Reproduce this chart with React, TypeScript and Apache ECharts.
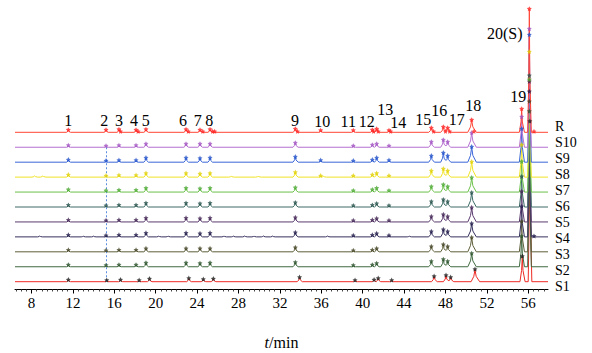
import React, { useEffect, useRef } from "react";
import * as echarts from "echarts";

// ---------- data ----------
const traceNames = ["S1", "S2", "S3", "S4", "S5", "S6", "S7", "S8", "S9", "S10", "R"];
const peakLabels = ["1", "2", "3", "4", "5", "6", "7", "8", "9", "10", "11", "12", "13", "14", "15", "16", "17", "18", "19", "20(S)"];
// retention times (min) for S2..S10 and R
const peakTimes = [11.56, 15.2, 16.45, 18.1, 19.06, 22.93, 24.28, 25.25, 33.49, 35.94, 39.09, 40.93, 41.35, 42.54, 46.63, 47.79, 48.21, 50.53, 55.36, 56.1];
// S1 is slightly shifted
const s1PeakTimes = [11.56, 15.27, 16.6, 18.4, 19.4, 23.2, 24.6, 25.57, 33.9, 36.3, 39.26, 41.1, 41.5, 42.8, 46.9, 48.05, 48.5, 50.85, 55.42, 56.15];
const peakWidths = [0.35, 0.35, 0.35, 0.35, 0.4, 0.4, 0.4, 0.4, 0.45, 0.35, 0.35, 0.35, 0.4, 0.35, 0.5, 0.5, 0.5, 0.75, 0.45, 0.32];

// peak heights (relative signal) per trace, null = not detected
const heightsS1 = [1.5, 1, 1.5, 1, 2.5, 3, 2, 2.5, 4, null, 1, 1.5, 3, 1, 5, 6, 4, 12, 25, 160];
const heightsS2 = [1.5, 1, 1.5, 1.5, 3.5, 3.5, 3, 3.5, 4, null, 1, 1.5, 3, null, 5, 7, 5, 13, 30, 155];
const heightsS3 = [1.5, 1, 1.5, 1.5, 3, 3, 3, 3, 4, null, 1, 1.5, 3, null, 5, 7, 5, 14, 30, 150];
const heightsS4 = [1.5, 1, 1.5, 1.5, 3.5, 3.5, 3, 3.5, 4, null, 1, 1.5, 3, 1, 5, 7, 5, 13, 30, 145];
const heightsS5 = [1.5, 1, 1.5, 1.5, 3.5, 3.5, 3, 3.5, 4, null, 1, 1.5, 3, 1, 5, 7, 5, 14, 30, 140];
const heightsS6 = [1.5, 1, 1.5, 1.5, 3.5, 3.5, 3, 3.5, 4, null, 1, 1.5, 3, 1, 5, 7, 5, 14, 30, 131];
const heightsS7 = [2, 1, 1.5, 1.5, 3.5, 3.5, 3, 3.5, 4, null, 1, 2, 3.5, 1, 5, 7, 5, 14, 30, 112];
const heightsS8 = [2, 1, 1.5, 1.5, 3.5, 3.5, 3, 3.5, 4.5, 1, 1, 2, 3.5, 1, 6, 8, 6, 15, 32, 125];
const heightsS9 = [2, 1, 1.5, 1.5, 4, 4, 3.5, 4, 5, 1.5, 1, 2, 4, 1.5, 6, 9, 6, 15, 33, 127];
const heightsS10 = [1.5, 1, 1.5, 1.5, 3, 3, 3, 3, 4, null, 1, 2, 3, 1, 5, 7, 5, 14, 30, 118];
const heightsR = [2, 2, 2.5, 2, 2.5, 2.5, 2, 2.5, 3, 1.5, 1.5, 2, 3, 1.5, 4, 5, 4, 12, 23, 123];

// small baseline disturbances
const s8NoiseTimes = [8.3, 9.1, 27.3, 29.9, 36.2];
const s8NoiseHeights = [1.2, 1.2, 0.8, 0.8, 0.8];
const s4NoiseTimes = [8.8, 13.0, 14.0, 20.3, 21.2, 26.6, 27.5, 28.6, 29.5, 30.4, 31.3, 36.6, 44.5];
const s4NoiseHeights = [0.9, 0.7, 0.7, 0.8, 0.8, 0.9, 0.8, 0.9, 0.8, 0.9, 0.8, 0.8, 0.7];

// extra marked points on R (shoulders) and S4
const rExtraMarkTimes = [16.6, 18.3, 23.15, 24.55, 25.5, 25.7, 33.7, 41.05, 41.5, 42.7, 46.85, 48.0, 48.4, 50.75, 56.55];
const s4ExtraMarkTimes = [56.55];

const tickLabels = [8, 12, 16, 20, 24, 28, 32, 36, 40, 44, 48, 52, 56];

// ---------- layout / style ----------
const X_MIN = 6.406;
const X_MAX = 57.904;
const Y_MAX = 284.5;
const BASE0 = 7.8;
const BASE_STEP = 14.94;

const lineColors = ["#ee2a24", "#3f6a40", "#5e5e3a", "#35305e", "#5a3a6e", "#3d6b66", "#6cc24a", "#f0e326", "#3a66d8", "#b56fd0", "#ff4535"];
const markColors = ["#1a1a1a", "#285028", "#404020", "#201a48", "#3e2050", "#24504a", "#4aa830", "#e0d000", "#1f4fc8", "#a050c0", "#ff2020"];

const heightTable = [heightsS1, heightsS2, heightsS3, heightsS4, heightsS5, heightsS6, heightsS7, heightsS8, heightsS9, heightsS10, heightsR];

const labelPos: [number, number][] = [
  [68.3, 120], [104.3, 120], [119, 120], [134, 120], [145.7, 120], [183, 120], [197.7, 120], [209.3, 120],
  [295, 120], [322.3, 121], [348.3, 121], [366.7, 121], [385.3, 109], [398.3, 122.5], [423.3, 119],
  [439.3, 110.5], [456.7, 119], [473.3, 105.5], [518.3, 96], [504.7, 33],
];

const shapeDx = [-0.5, -0.15, 0, 0.15, 0.6];
const shapeFr = [0, 0.45, 1, 0.45, 0];

type Peak = { t: number; h: number; w: number };

function peakValue(p: Peak, x: number): number {
  for (let k = 0; k < shapeDx.length - 1; k++) {
    const x0 = p.t + shapeDx[k] * p.w;
    const x1 = p.t + shapeDx[k + 1] * p.w;
    if (x >= x0 && x <= x1) {
      const f = x1 === x0 ? 0 : (x - x0) / (x1 - x0);
      return p.h * (shapeFr[k] + f * (shapeFr[k + 1] - shapeFr[k]));
    }
  }
  return 0;
}

function buildTrace(idx: number) {
  const times = idx === 0 ? s1PeakTimes : peakTimes;
  const hs = heightTable[idx];
  const base = BASE0 + BASE_STEP * idx;
  const peaks: Peak[] = [];
  times.forEach((t, i) => {
    const h = hs[i];
    if (h != null) peaks.push({ t, h, w: peakWidths[i] });
  });
  if (traceNames[idx] === "S8") s8NoiseTimes.forEach((t, i) => peaks.push({ t, h: s8NoiseHeights[i], w: 0.5 }));
  if (traceNames[idx] === "S4") s4NoiseTimes.forEach((t, i) => peaks.push({ t, h: s4NoiseHeights[i], w: 0.4 }));
  const xs = new Set<number>([X_MIN, X_MAX]);
  peaks.forEach((p) => shapeDx.forEach((d) => {
    const x = p.t + d * p.w;
    if (x > X_MIN && x < X_MAX) xs.add(x);
  }));
  const sorted = Array.from(xs).sort((a, b) => a - b);
  const line = sorted.map((x) => [x, base + peaks.reduce((s, p) => s + peakValue(p, x), 0)]);
  const marks: number[][] = [];
  times.forEach((t, i) => {
    const h = hs[i];
    if (h != null) marks.push([t, base + h + 0.6]);
  });
  if (traceNames[idx] === "R") rExtraMarkTimes.forEach((t) => marks.push([t, base + 1]));
  if (traceNames[idx] === "S4") s4ExtraMarkTimes.forEach((t) => marks.push([t, base + 1]));
  return { line, marks, base };
}

const STAR = "path://M0,-10L2.9,-4L9.5,-3.1L4.7,1.5L5.9,8.1L0,5L-5.9,8.1L-4.7,1.5L-9.5,-3.1L-2.9,-4Z";
const FONT = "Liberation Serif";

export default function App() {
  const ref = useRef<HTMLDivElement>(null);
  useEffect(() => {
    document.body.style.margin = "0";
    if (!ref.current) return;
    const chart = echarts.init(ref.current, undefined, { renderer: "svg" });

    const series: any[] = [];
    const traces = traceNames.map((_, i) => buildTrace(i));
    traces.forEach((tr, i) => {
      const lineSeries: any = {
        name: traceNames[i],
        type: "line",
        data: tr.line,
        showSymbol: false,
        symbol: "none",
        lineStyle: { width: 1, color: lineColors[i] },
        itemStyle: { color: lineColors[i] },
        z: 2 + i,
        silent: true,
        endLabel: {
          show: true,
          formatter: traceNames[i],
          color: "#000",
          fontFamily: FONT,
          fontSize: 14,
          lineHeight: 14,
          distance: 7,
          offset: [0, 5 - 1.06 * i],
        },
      };
      if (i === 0) {
        const t2 = peakTimes[1];
        lineSeries.markLine = {
          silent: true,
          symbol: "none",
          label: { show: false },
          lineStyle: { color: "#5b8ee0", type: [2, 2], width: 1 },
          data: [[{ coord: [t2, traces[9].base] }, { coord: [t2, tr.base] }]],
        };
      }
      series.push(lineSeries);
      series.push({
        type: "scatter",
        data: tr.marks,
        symbol: STAR,
        symbolSize: 5,
        itemStyle: { color: markColors[i] },
        z: 20 + i,
        silent: true,
      });
    });

    const minorTicks: number[] = [];
    for (let v = 6.5; v < X_MAX; v += 0.5) {
      if (v % 4 !== 0) minorTicks.push(v);
    }

    const graphic = peakLabels.map((txt, i) => ({
      type: "text",
      x: labelPos[i][0],
      y: labelPos[i][1],
      style: {
        text: txt,
        fontFamily: FONT,
        fontSize: 16,
        fill: "#000",
        textAlign: "center",
        textVerticalAlign: "middle",
      },
      z: 100,
    }));

    chart.setOption({
      animation: false,
      backgroundColor: "#fff",
      grid: { left: 15, right: 44, top: 5, bottom: 63.5, containLabel: false, outerBoundsMode: "none" },
      xAxis: [
        {
          type: "value",
          position: "bottom",
          min: X_MIN,
          max: X_MAX,
          axisLine: { show: true, onZero: false, lineStyle: { color: "#000", width: 1 } },
          axisTick: { show: true, customValues: tickLabels, length: 4, lineStyle: { color: "#000" } },
          axisLabel: {
            show: true,
            customValues: tickLabels,
            margin: 6,
            color: "#000",
            fontFamily: FONT,
            fontSize: 15,
          },
          splitLine: { show: false },
          name: "{i|t}/min",
          nameLocation: "middle",
          nameGap: 45,
          nameTextStyle: {
            color: "#000",
            fontFamily: FONT,
            fontSize: 16,
            rich: { i: { fontStyle: "italic", fontFamily: FONT, fontSize: 16, color: "#000" } },
          },
        },
        {
          type: "value",
          position: "bottom",
          min: X_MIN,
          max: X_MAX,
          axisLine: { show: false, onZero: false },
          axisTick: { show: true, customValues: minorTicks, length: 2, lineStyle: { color: "#444" } },
          axisLabel: { show: false },
          splitLine: { show: false },
        },
      ],
      yAxis: { type: "value", min: 0, max: Y_MAX, show: false },
      series,
      graphic,
    });
    return () => chart.dispose();
  }, []);
  return (
    <div
      ref={ref}
      style={{ width: 592, height: 353, position: "absolute", left: 0, top: 0, background: "#fff" }}
    />
  );
}
